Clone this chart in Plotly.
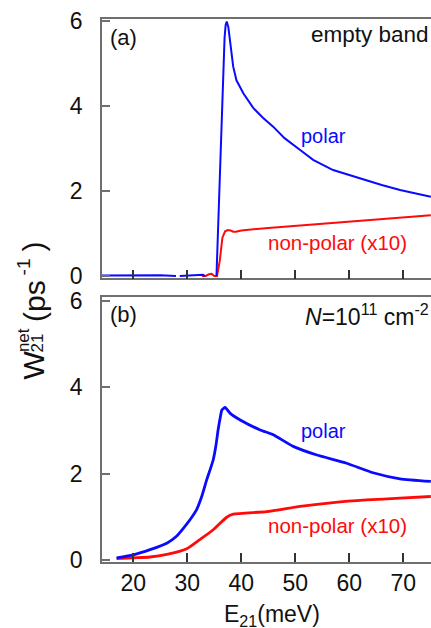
import plotly.graph_objects as go
from plotly.subplots import make_subplots

# ---------------- data ----------------
# panel (a): empty band
a_polar_x = [14.2, 17.0, 20.0, 23.0, 25.0, 27.9, None, 28.6, 30.0, 31.5, 32.3, 32.9, 33.3, None,
             35.4, 35.9, 36.4, 36.9, 37.1, 37.3, 37.6, 38.1, 38.5, 39.1, 40.4, 42.2, 44.0,
             45.9, 48.0, 50.9, 53.3, 57.0, 60.0, 63.2, 66.0, 69.4, 72.0, 75.1]
a_polar_y = [0.01, 0.01, 0.02, 0.02, 0.02, 0.0, None, 0.0, 0.01, 0.02, 0.04, 0.03, 0.0, None,
             0.0, 2.0, 4.1, 5.6, 5.9, 5.98, 5.85, 5.3, 4.92, 4.6, 4.29, 3.95, 3.72,
             3.51, 3.24, 2.96, 2.73, 2.49, 2.37, 2.26, 2.14, 2.02, 1.94, 1.86]

a_nonpolar_x = [32.7, 33.4, 34.0, 34.5, 35.0, 35.5, 36.0, 36.5, 37.0, 37.5, 38.0, 38.5, 39.0,
                40.0, 45.0, 50.0, 55.0, 60.0, 65.0, 70.0, 75.1]
a_nonpolar_y = [0.0, 0.0, 0.04, 0.05, 0.0, 0.0, 0.35, 0.9, 1.05, 1.08, 1.07, 1.04, 1.04,
                1.07, 1.13, 1.18, 1.23, 1.28, 1.33, 1.38, 1.43]

# panel (b): N = 1e11 cm^-2
b_polar_x = [16.9, 20.0, 23.1, 26.2, 28.0, 29.3, 30.6, 31.7, 32.7, 33.6, 34.3, 34.8, 35.3,
             35.7, 36.1, 36.4, 37.0, 37.9, 39.8, 43.5, 45.9, 49.6, 54.0, 59.5, 64.4, 69.4, 75.1]
b_polar_y = [0.05, 0.12, 0.24, 0.39, 0.55, 0.74, 0.95, 1.16, 1.48, 1.86, 2.12, 2.32, 2.65,
             3.01, 3.30, 3.47, 3.53, 3.40, 3.24, 3.01, 2.90, 2.63, 2.43, 2.24, 2.02, 1.88, 1.82]

b_nonpolar_x = [16.9, 20.0, 23.1, 26.2, 29.9, 32.3, 34.8, 37.3, 38.5, 44.7, 50.9, 57.0,
                63.2, 69.4, 75.1]
b_nonpolar_y = [0.03, 0.05, 0.07, 0.13, 0.26, 0.47, 0.70, 0.99, 1.06, 1.12, 1.24, 1.33,
                1.39, 1.43, 1.47]

x_ticks = [20, 30, 40, 50, 60, 70]
y_ticks = [0, 2, 4, 6]

# ---------------- figure ----------------
W, H = 431, 628
ML, MR, MT, MB = 102, 0, 19, 66
PW, PH = W - ML - MR, H - MT - MB


def px(xp):
    return (xp - ML) / PW


def py(yp):
    return (H - MB - yp) / PH


FONT = "Liberation Sans, Arial, sans-serif"
BLUE = "#0a0aff"
RED = "#ff0a0a"
AX = "#6f6f6f"

fig = make_subplots(rows=2, cols=1, shared_xaxes=False, vertical_spacing=0.0)

fig.add_trace(go.Scatter(x=a_nonpolar_x, y=a_nonpolar_y, mode="lines",
                         line=dict(color=RED, width=2), showlegend=False), row=1, col=1)
fig.add_trace(go.Scatter(x=a_polar_x, y=a_polar_y, mode="lines", connectgaps=False,
                         line=dict(color=BLUE, width=2), showlegend=False), row=1, col=1)
fig.add_trace(go.Scatter(x=b_nonpolar_x, y=b_nonpolar_y, mode="lines", line_shape="spline",
                         line=dict(color=RED, width=2.8, smoothing=0.6), showlegend=False),
              row=2, col=1)
fig.add_trace(go.Scatter(x=b_polar_x, y=b_polar_y, mode="lines", line_shape="spline",
                         line=dict(color=BLUE, width=2.8, smoothing=0.5), showlegend=False),
              row=2, col=1)

xcommon = dict(range=[14.2, 75.13], tickvals=x_ticks, ticks="inside", ticklen=9,
               tickwidth=1.5, tickcolor="#333", showline=True, linecolor=AX, linewidth=1.5,
               mirror=True, showgrid=False, zeroline=False,
               tickfont=dict(family=FONT, size=23, color="#111"))
ycommon = dict(tickvals=y_ticks, ticks="inside", ticklen=8, tickwidth=1.5, tickcolor=AX,
               showline=True, linecolor=AX, linewidth=1.5, mirror=False, showgrid=False,
               zeroline=False, ticklabelstandoff=13,
               tickfont=dict(family=FONT, size=23, color="#111"))

fig.update_xaxes(**xcommon)
fig.update_xaxes(showticklabels=False, row=1, col=1)
fig.update_xaxes(ticklabelstandoff=0, row=2, col=1)
fig.update_yaxes(**ycommon)
fig.update_yaxes(range=[-0.054, 6.04], domain=[py(278.3), 1.0], row=1, col=1)
fig.update_yaxes(range=[-0.046, 6.08], domain=[0.0, py(297.3)], row=2, col=1)

ann = []


def add(text, x, y, size, color="#111", xa="center", ya="middle", angle=0):
    ann.append(dict(text=text, x=px(x), y=py(y), xref="paper", yref="paper",
                    xanchor=xa, yanchor=ya, showarrow=False, textangle=angle,
                    borderpad=0, borderwidth=0,
                    font=dict(family=FONT, size=size, color=color)))


# panel labels and texts
add("(a)", 110, 37, 22, xa="left")
add("empty band", 429, 34, 22.5, xa="right")
add("polar", 300.5, 136, 20, color=BLUE, xa="left")
add("non-polar (x10)", 267.5, 242.7, 20.5, color=RED, xa="left")
add("(b)", 110, 315, 22, xa="left")
add("<i>N</i>=10<sup>11</sup> cm<sup>-2</sup>", 305, 330, 23, xa="left", ya="bottom")
add("polar", 300.5, 431, 20, color=BLUE, xa="left")
add("non-polar (x10)", 267.5, 525, 20.5, color=RED, xa="left")

# x axis title
add("E<sub>21</sub>(meV)", 223.5, 600.7, 23, xa="left", ya="top")

# y axis title, assembled from pieces (stacked super/subscript)
add("W", 33.9, 364.5, 30, angle=-90)
add("net", 24.1, 340, 17, angle=-90)
add("21", 37.4, 343, 17, angle=-90)
add("(ps", 33.9, 301, 30, angle=-90)
add("-1", 23.4, 267, 19, angle=-90)
add(")", 33.9, 246.5, 30, angle=-90)

fig.update_layout(width=W, height=H, margin=dict(l=ML, r=MR, t=MT, b=MB, pad=0),
                  plot_bgcolor="white", paper_bgcolor="white", annotations=ann,
                  font=dict(family=FONT))

fig.write_html("out.html", config={"displayModeBar": False},
               post_script="document.body.style.margin='0';document.body.style.overflow='hidden';")
